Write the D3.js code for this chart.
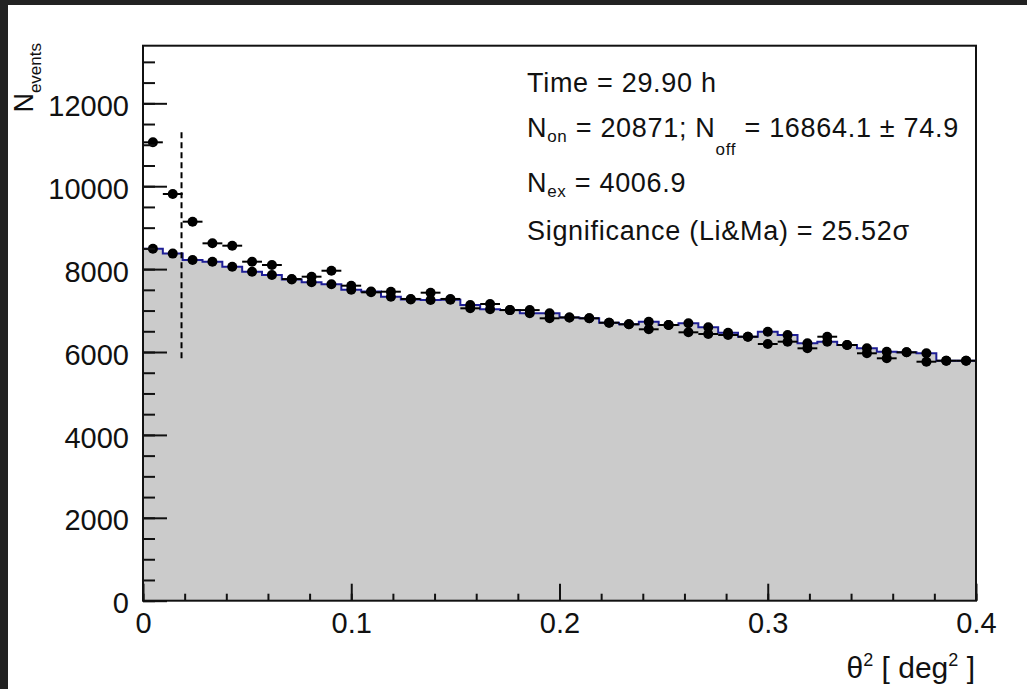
<!DOCTYPE html>
<html>
<head>
<meta charset="utf-8">
<script src="https://cdn.jsdelivr.net/npm/d3@7"></script>
<style>
  html, body { margin: 0; padding: 0; background: #222; }
  svg { display: block; }
  text { font-family: "Liberation Sans", Arial, sans-serif; fill: #111; }
  .axis path, .axis line { stroke: #111; stroke-width: 2; }
</style>
</head>
<body>
<div id="chart"></div>
<script>
// theta^2 binning: 42 bins between 0 and 0.4
var nBins = 42;
var xRange = [0, 0.4];
var thetaCut = 0.0185;

// ON counts per bin
var onCounts = [11059, 9812, 9144, 8622, 8565, 8179, 8099, 7760, 7817, 7961,
                7600, 7440, 7455, 7280, 7431, 7280, 7054, 7158, 7011, 7011,
                6813, 6834, 6813, 6707, 6668, 6548, 6651, 6475, 6434, 6410,
                6369, 6193, 6249, 6089, 6369, 6169, 5969, 5848, 5992, 5766,
                5790, 5790];
// OFF counts per bin (normalised)
var offCounts = [8490, 8374, 8220, 8179, 8058, 7937, 7858, 7750, 7681, 7633,
                 7500, 7460, 7334, 7265, 7255, 7262, 7134, 7030, 7011, 6933,
                 6933, 6834, 6813, 6707, 6668, 6731, 6651, 6692, 6596, 6466,
                 6369, 6490, 6410, 6210, 6249, 6169, 6089, 6007, 5992, 5969,
                 5790, 5790];

var yTicks = [0, 2000, 4000, 6000, 8000, 10000, 12000];
var xTicks = [0, 0.1, 0.2, 0.3, 0.4];
var yMax = 13390;

var W = 1027, H = 689;
var frame = {left: 143, right: 976, top: 45.7, bottom: 600.7};

var svg = d3.select("#chart").append("svg")
    .attr("width", W)
    .attr("height", H);

svg.append("rect").attr("x", 8).attr("y", 5)
    .attr("width", W - 8).attr("height", H - 5)
    .attr("fill", "#fff");

var x = d3.scaleLinear().domain(xRange).range([frame.left, frame.right]);
var y = d3.scaleLinear().domain([0, yMax]).range([frame.bottom, frame.top]);

var bw = (xRange[1] - xRange[0]) / nBins;
var bins = d3.range(nBins).map(function(i) {
  return {x0: xRange[0] + i * bw, x1: xRange[0] + (i + 1) * bw,
          xc: xRange[0] + (i + 0.5) * bw, on: onCounts[i], off: offCounts[i]};
});

// OFF histogram: grey fill + blue step line
var steps = [];
bins.forEach(function(b) { steps.push([b.x0, b.off]); steps.push([b.x1, b.off]); });

svg.append("path")
    .datum(steps)
    .attr("fill", "#cbcbcb")
    .attr("d", d3.area().x(function(d) { return x(d[0]); })
      .y0(y(0)).y1(function(d) { return y(d[1]); }));

svg.append("path")
    .datum(steps)
    .attr("fill", "none")
    .attr("stroke", "#1e1e96")
    .attr("stroke-width", 2)
    .attr("d", d3.line().x(function(d) { return x(d[0]); }).y(function(d) { return y(d[1]); }));

// OFF markers
var offG = svg.append("g");
offG.selectAll("line.ey").data(bins).enter().append("line")
    .attr("x1", function(d) { return x(d.xc); }).attr("x2", function(d) { return x(d.xc); })
    .attr("y1", function(d) { return y(d.off + Math.sqrt(d.off)); })
    .attr("y2", function(d) { return y(d.off - Math.sqrt(d.off)); })
    .attr("stroke", "#000").attr("stroke-width", 2);
offG.selectAll("circle").data(bins).enter().append("circle")
    .attr("cx", function(d) { return x(d.xc); })
    .attr("cy", function(d) { return y(d.off); })
    .attr("r", 5).attr("fill", "#000");

// ON points with error bars
var onG = svg.append("g");
onG.selectAll("line.ex").data(bins).enter().append("line")
    .attr("x1", function(d) { return x(d.x0); }).attr("x2", function(d) { return x(d.x1); })
    .attr("y1", function(d) { return y(d.on); }).attr("y2", function(d) { return y(d.on); })
    .attr("stroke", "#000").attr("stroke-width", 2);
onG.selectAll("line.ey").data(bins).enter().append("line")
    .attr("x1", function(d) { return x(d.xc); }).attr("x2", function(d) { return x(d.xc); })
    .attr("y1", function(d) { return y(d.on + Math.sqrt(d.on)); })
    .attr("y2", function(d) { return y(d.on - Math.sqrt(d.on)); })
    .attr("stroke", "#000").attr("stroke-width", 2);
onG.selectAll("circle").data(bins).enter().append("circle")
    .attr("cx", function(d) { return x(d.xc); })
    .attr("cy", function(d) { return y(d.on); })
    .attr("r", 5).attr("fill", "#000");

// theta^2 cut
svg.append("line")
    .attr("x1", x(thetaCut)).attr("x2", x(thetaCut))
    .attr("y1", y(11300)).attr("y2", y(5850))
    .attr("stroke", "#000").attr("stroke-width", 2)
    .attr("stroke-dasharray", "6,4");

// frame
svg.append("rect")
    .attr("x", frame.left).attr("y", frame.top)
    .attr("width", frame.right - frame.left).attr("height", frame.bottom - frame.top)
    .attr("fill", "none").attr("stroke", "#111").attr("stroke-width", 2);

// axes, ticks pointing inwards like ROOT
var yAxis = svg.append("g").attr("class", "axis")
    .attr("transform", "translate(" + frame.left + ",0)")
    .call(d3.axisLeft(y).tickValues(yTicks).tickSize(-24).tickPadding(14).tickFormat(d3.format("d")));
svg.append("g").attr("class", "axis")
    .attr("transform", "translate(" + frame.left + ",0)")
    .call(d3.axisLeft(y).tickValues(d3.range(0, yMax, 500)).tickSize(-12).tickFormat(""));

var xAxis = svg.append("g").attr("class", "axis")
    .attr("transform", "translate(0," + frame.bottom + ")")
    .call(d3.axisBottom(x).tickValues(xTicks).tickSize(-17).tickPadding(12).tickFormat(d3.format("")));
svg.append("g").attr("class", "axis")
    .attr("transform", "translate(0," + frame.bottom + ")")
    .call(d3.axisBottom(x).tickValues(d3.range(0, 0.401, 0.02)).tickSize(-7).tickFormat(""));

svg.selectAll(".axis path").remove();
yAxis.selectAll("text").style("font-size", "29px").attr("fill", "#111").attr("dy", "0.42em");
xAxis.selectAll("text").style("font-size", "29px").attr("fill", "#111");

// axis titles
var yt = svg.append("text")
    .attr("transform", "translate(33,43) rotate(-90)")
    .attr("text-anchor", "end")
    .style("font-size", "27px");
yt.append("tspan").text("N");
yt.append("tspan").attr("dy", 8).style("font-size", "17px").text("events");

var xt = svg.append("text")
    .attr("x", 975).attr("y", 678)
    .attr("text-anchor", "end")
    .style("font-size", "30px");
xt.append("tspan").text("\u03b8");
xt.append("tspan").attr("dy", -12).style("font-size", "18px").text("2");
xt.append("tspan").attr("dy", 12).text(" [ deg");
xt.append("tspan").attr("dy", -12).style("font-size", "18px").text("2");
xt.append("tspan").attr("dy", 12).text(" ]");

// stats text
var stats = svg.append("g").attr("transform", "translate(527,0)")
    .style("font-size", "27px").style("letter-spacing", "0.7px");
stats.append("text").attr("y", 92).text("Time = 29.90 h");
var l2 = stats.append("text").attr("y", 137);
l2.append("tspan").text("N");
l2.append("tspan").attr("dy", 5).style("font-size", "17px").text("on");
l2.append("tspan").attr("dy", -5).text(" = 20871; N");
l2.append("tspan").attr("dy", 18).style("font-size", "17px").text("off");
l2.append("tspan").attr("dy", -18).text(" = 16864.1 \u00b1 74.9");
var l3 = stats.append("text").attr("y", 192);
l3.append("tspan").text("N");
l3.append("tspan").attr("dy", 5).style("font-size", "17px").text("ex");
l3.append("tspan").attr("dy", -5).text(" = 4006.9");
stats.append("text").attr("y", 240).text("Significance (Li&Ma) = 25.52\u03c3");
</script>
</body>
</html>
